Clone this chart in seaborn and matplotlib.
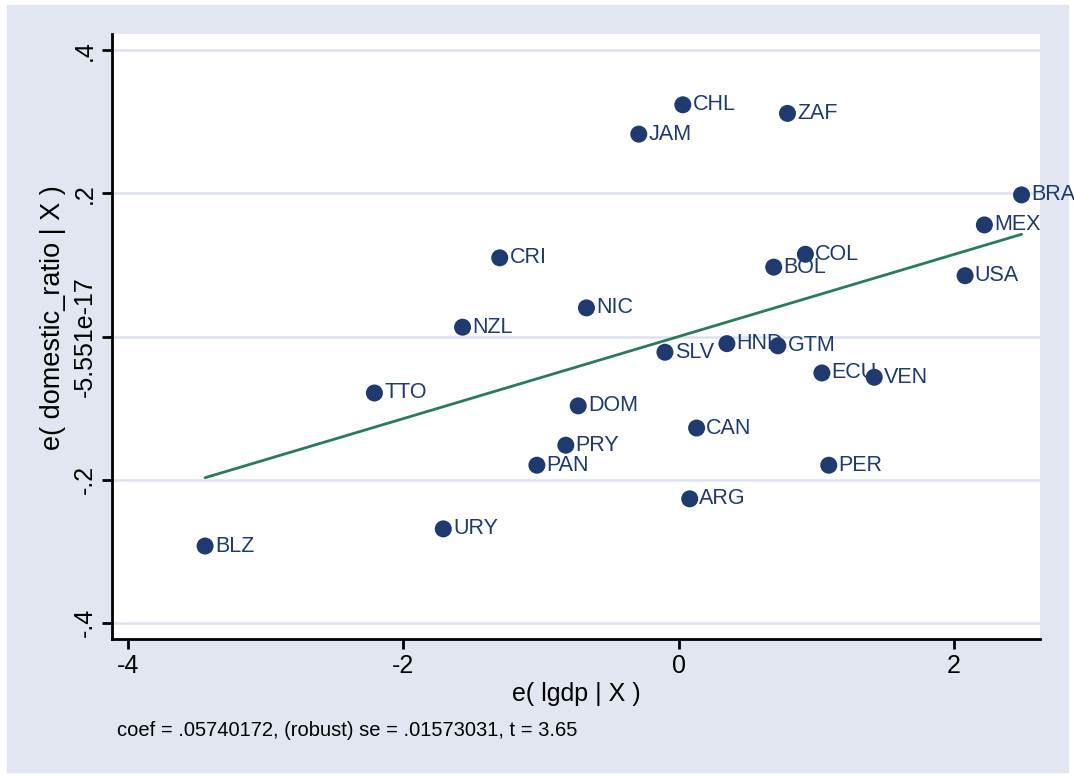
import matplotlib.pyplot as plt
import seaborn as sns
import numpy as np
import pandas as pd

# Added-variable plot values
countries = ["CHL", "ZAF", "JAM", "BRA", "MEX", "COL", "CRI", "BOL", "USA", "NIC",
             "NZL", "HND", "GTM", "SLV", "ECU", "VEN", "TTO", "DOM", "CAN", "PRY",
             "PAN", "PER", "ARG", "URY", "BLZ"]
e_lgdp = [0.03, 0.79, -0.29, 2.49, 2.22, 0.92, -1.30, 0.69, 2.08, -0.67,
          -1.57, 0.35, 0.72, -0.10, 1.04, 1.42, -2.21, -0.73, 0.13, -0.82,
          -1.03, 1.09, 0.08, -1.71, -3.44]
e_domestic = [0.324, 0.312, 0.283, 0.198, 0.156, 0.115, 0.110, 0.097, 0.085, 0.040,
              0.013, -0.010, -0.013, -0.022, -0.051, -0.057, -0.079, -0.097, -0.128, -0.152,
              -0.180, -0.180, -0.227, -0.269, -0.293]
coef = 0.05740172
se = 0.01573031
tstat = 3.65

x_ticks = [-4, -2, 0, 2]
y_ticks = [-0.4, -0.2, 0.0, 0.2, 0.4]
y_ticklabels = ["-.4", "-.2", "-5.551e-17", ".2", ".4"]

df = pd.DataFrame({"country": countries, "x": e_lgdp, "y": e_domestic})
fit = df.sort_values("x").assign(fitted=lambda d: coef * d["x"])

navy = "#1f3a6e"
green = "#2a7a5e"
bg = "#e1e6f0"

sns.set_theme(style="white")
plt.rcParams["font.family"] = ["Liberation Sans", "DejaVu Sans"]

fig = plt.figure(figsize=(10.74, 7.76), dpi=100)
fig.patch.set_facecolor("white")
# light blue-grey graph region
fig.add_artist(plt.Rectangle((7 / 1074, 4 / 776), 1061 / 1074, 767 / 776,
                             transform=fig.transFigure, color=bg, zorder=-10))
ax = fig.add_axes([112 / 1074, 1 - 639 / 776, 928 / 1074, 605 / 776])
ax.set_facecolor("white")

for yt in y_ticks:
    ax.axhline(yt, color="#dde3ee", lw=1.8, zorder=0)

sns.lineplot(data=fit, x="x", y="fitted", color=green, lw=2, ax=ax, zorder=2)
sns.scatterplot(data=df, x="x", y="y", color=navy, s=150, edgecolor="none",
                ax=ax, zorder=3)
for _, r in df.iterrows():
    ax.annotate(r["country"], (r["x"], r["y"]), xytext=(7, 0), textcoords="offset points",
                va="center", ha="left", fontsize=15.5, color=navy, zorder=4)

ax.set_xlim(-4.116, 2.624)
ax.set_ylim(-0.423, 0.423)
ax.set_xticks(x_ticks)
ax.set_xticklabels([str(v) for v in x_ticks])
ax.set_yticks(y_ticks)
ax.set_yticklabels(y_ticklabels, rotation=90, va="center")
ax.tick_params(axis="both", direction="out", length=7, width=2, color="black",
               labelsize=18, labelcolor="black", bottom=True, left=True, pad=4)

for side in ["top", "right"]:
    ax.spines[side].set_visible(False)
for side in ["left", "bottom"]:
    ax.spines[side].set_color("black")
    ax.spines[side].set_linewidth(2)

ax.set_xlabel("e( lgdp | X )", fontsize=18, color="black", labelpad=3)
ax.set_ylabel("")
fig.text(53 / 1074, 1 - 318 / 776, "e( domestic_ratio | X )", rotation=90,
         ha="center", va="center", fontsize=19.5, color="black")
fig.text(117 / 1074, 1 - 731 / 776,
         f"coef = .{str(coef).split('.')[1]}, (robust) se = .{str(se).split('.')[1]}, t = {tstat}",
         ha="left", va="center", fontsize=14.5, color="black")

fig.savefig("out.png", dpi=100)
